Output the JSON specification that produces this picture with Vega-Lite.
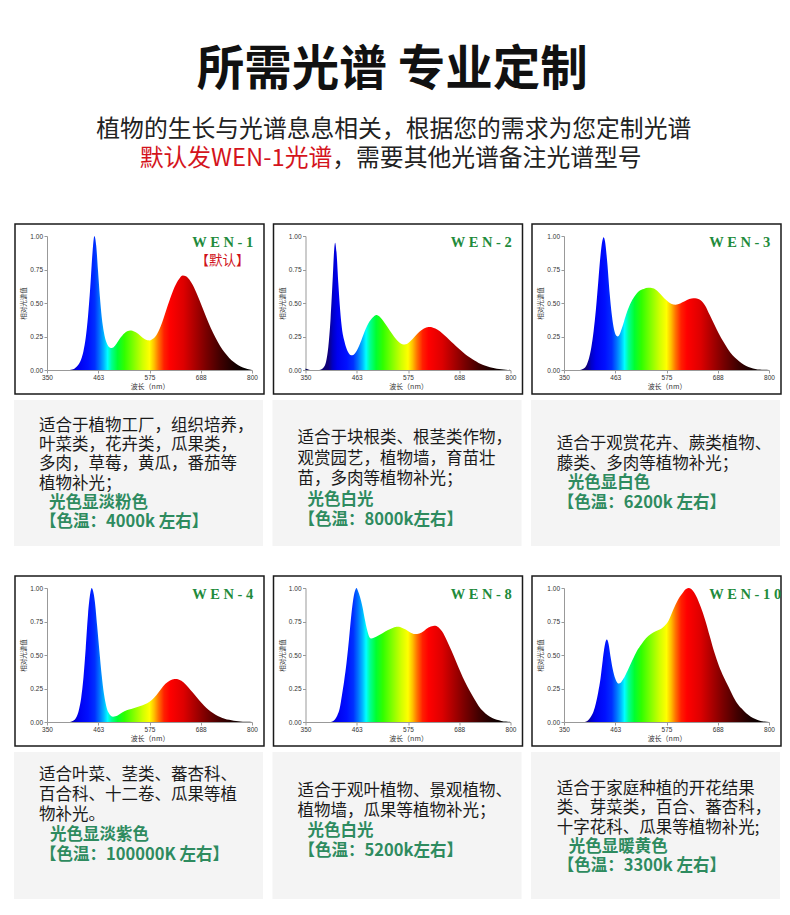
{
  "$schema": "https://vega.github.io/schema/vega-lite/v6.json",
  "background": "white",
  "padding": {"left": 13, "top": 0, "right": 0, "bottom": 0},
  "config": {
    "view": {"stroke": null},
    "axis": {"labelFont": "Liberation Sans", "labelFontSize": 6.5, "labelColor": "#333", "tickColor": "#999", "tickSize": 3, "domainColor": "#999", "grid": false, "titleFont": "Noto Sans CJK SC", "titleFontWeight": "normal", "titleColor": "#333", "labelFlush": false, "labelOverlap": false, "labelPadding": 1.5}
  },
  "datasets": {
    "spectra": [
      {"s":"WEN-1","wl":350,"v":0},{"s":"WEN-1","wl":400,"v":0},{"s":"WEN-1","wl":405,"v":0.004},{"s":"WEN-1","wl":410,"v":0.01},{"s":"WEN-1","wl":415,"v":0.025},{"s":"WEN-1","wl":420,"v":0.045},{"s":"WEN-1","wl":425,"v":0.08},{"s":"WEN-1","wl":430,"v":0.14},{"s":"WEN-1","wl":435,"v":0.24},{"s":"WEN-1","wl":440,"v":0.4},{"s":"WEN-1","wl":445,"v":0.62},{"s":"WEN-1","wl":450,"v":0.88},{"s":"WEN-1","wl":454,"v":1.0},{"s":"WEN-1","wl":458,"v":0.93},{"s":"WEN-1","wl":462,"v":0.74},{"s":"WEN-1","wl":466,"v":0.55},{"s":"WEN-1","wl":470,"v":0.4},{"s":"WEN-1","wl":475,"v":0.28},{"s":"WEN-1","wl":480,"v":0.21},{"s":"WEN-1","wl":485,"v":0.175},{"s":"WEN-1","wl":490,"v":0.164},{"s":"WEN-1","wl":495,"v":0.168},{"s":"WEN-1","wl":500,"v":0.185},{"s":"WEN-1","wl":510,"v":0.235},{"s":"WEN-1","wl":520,"v":0.275},{"s":"WEN-1","wl":530,"v":0.292},{"s":"WEN-1","wl":535,"v":0.294},{"s":"WEN-1","wl":540,"v":0.29},{"s":"WEN-1","wl":550,"v":0.27},{"s":"WEN-1","wl":560,"v":0.24},{"s":"WEN-1","wl":570,"v":0.222},{"s":"WEN-1","wl":575,"v":0.221},{"s":"WEN-1","wl":580,"v":0.228},{"s":"WEN-1","wl":590,"v":0.26},{"s":"WEN-1","wl":600,"v":0.33},{"s":"WEN-1","wl":610,"v":0.43},{"s":"WEN-1","wl":620,"v":0.53},{"s":"WEN-1","wl":630,"v":0.62},{"s":"WEN-1","wl":640,"v":0.68},{"s":"WEN-1","wl":648,"v":0.705},{"s":"WEN-1","wl":655,"v":0.7},{"s":"WEN-1","wl":660,"v":0.685},{"s":"WEN-1","wl":670,"v":0.635},{"s":"WEN-1","wl":680,"v":0.56},{"s":"WEN-1","wl":690,"v":0.475},{"s":"WEN-1","wl":700,"v":0.39},{"s":"WEN-1","wl":710,"v":0.31},{"s":"WEN-1","wl":720,"v":0.24},{"s":"WEN-1","wl":730,"v":0.18},{"s":"WEN-1","wl":740,"v":0.13},{"s":"WEN-1","wl":750,"v":0.09},{"s":"WEN-1","wl":760,"v":0.06},{"s":"WEN-1","wl":770,"v":0.035},{"s":"WEN-1","wl":780,"v":0.018},{"s":"WEN-1","wl":790,"v":0.007},{"s":"WEN-1","wl":800,"v":0},

      {"s":"WEN-2","wl":350,"v":0.012},{"s":"WEN-2","wl":355,"v":0.005},{"s":"WEN-2","wl":360,"v":0},{"s":"WEN-2","wl":380,"v":0},{"s":"WEN-2","wl":385,"v":0.005},{"s":"WEN-2","wl":390,"v":0.02},{"s":"WEN-2","wl":395,"v":0.06},{"s":"WEN-2","wl":400,"v":0.17},{"s":"WEN-2","wl":405,"v":0.38},{"s":"WEN-2","wl":410,"v":0.7},{"s":"WEN-2","wl":413,"v":0.9},{"s":"WEN-2","wl":415,"v":0.95},{"s":"WEN-2","wl":418,"v":0.88},{"s":"WEN-2","wl":422,"v":0.65},{"s":"WEN-2","wl":426,"v":0.45},{"s":"WEN-2","wl":430,"v":0.31},{"s":"WEN-2","wl":435,"v":0.22},{"s":"WEN-2","wl":440,"v":0.16},{"s":"WEN-2","wl":445,"v":0.125},{"s":"WEN-2","wl":450,"v":0.11},{"s":"WEN-2","wl":455,"v":0.112},{"s":"WEN-2","wl":460,"v":0.13},{"s":"WEN-2","wl":470,"v":0.2},{"s":"WEN-2","wl":480,"v":0.29},{"s":"WEN-2","wl":490,"v":0.36},{"s":"WEN-2","wl":500,"v":0.4},{"s":"WEN-2","wl":506,"v":0.41},{"s":"WEN-2","wl":510,"v":0.405},{"s":"WEN-2","wl":520,"v":0.37},{"s":"WEN-2","wl":530,"v":0.32},{"s":"WEN-2","wl":540,"v":0.27},{"s":"WEN-2","wl":550,"v":0.225},{"s":"WEN-2","wl":560,"v":0.195},{"s":"WEN-2","wl":565,"v":0.19},{"s":"WEN-2","wl":570,"v":0.192},{"s":"WEN-2","wl":580,"v":0.215},{"s":"WEN-2","wl":590,"v":0.25},{"s":"WEN-2","wl":600,"v":0.285},{"s":"WEN-2","wl":610,"v":0.31},{"s":"WEN-2","wl":620,"v":0.32},{"s":"WEN-2","wl":625,"v":0.32},{"s":"WEN-2","wl":630,"v":0.315},{"s":"WEN-2","wl":640,"v":0.3},{"s":"WEN-2","wl":650,"v":0.275},{"s":"WEN-2","wl":660,"v":0.245},{"s":"WEN-2","wl":670,"v":0.21},{"s":"WEN-2","wl":680,"v":0.18},{"s":"WEN-2","wl":690,"v":0.15},{"s":"WEN-2","wl":700,"v":0.12},{"s":"WEN-2","wl":710,"v":0.095},{"s":"WEN-2","wl":720,"v":0.072},{"s":"WEN-2","wl":730,"v":0.053},{"s":"WEN-2","wl":740,"v":0.038},{"s":"WEN-2","wl":750,"v":0.026},{"s":"WEN-2","wl":760,"v":0.016},{"s":"WEN-2","wl":770,"v":0.009},{"s":"WEN-2","wl":780,"v":0.005},{"s":"WEN-2","wl":790,"v":0.002},{"s":"WEN-2","wl":800,"v":0},

      {"s":"WEN-3","wl":350,"v":0},{"s":"WEN-3","wl":385,"v":0},{"s":"WEN-3","wl":390,"v":0.005},{"s":"WEN-3","wl":395,"v":0.015},{"s":"WEN-3","wl":400,"v":0.04},{"s":"WEN-3","wl":405,"v":0.09},{"s":"WEN-3","wl":410,"v":0.17},{"s":"WEN-3","wl":415,"v":0.29},{"s":"WEN-3","wl":420,"v":0.45},{"s":"WEN-3","wl":425,"v":0.65},{"s":"WEN-3","wl":430,"v":0.85},{"s":"WEN-3","wl":434,"v":0.96},{"s":"WEN-3","wl":437,"v":0.99},{"s":"WEN-3","wl":440,"v":0.96},{"s":"WEN-3","wl":445,"v":0.8},{"s":"WEN-3","wl":450,"v":0.58},{"s":"WEN-3","wl":455,"v":0.41},{"s":"WEN-3","wl":460,"v":0.3},{"s":"WEN-3","wl":465,"v":0.255},{"s":"WEN-3","wl":468,"v":0.25},{"s":"WEN-3","wl":472,"v":0.265},{"s":"WEN-3","wl":478,"v":0.32},{"s":"WEN-3","wl":485,"v":0.4},{"s":"WEN-3","wl":495,"v":0.49},{"s":"WEN-3","wl":505,"v":0.55},{"s":"WEN-3","wl":515,"v":0.59},{"s":"WEN-3","wl":525,"v":0.605},{"s":"WEN-3","wl":535,"v":0.613},{"s":"WEN-3","wl":545,"v":0.61},{"s":"WEN-3","wl":555,"v":0.59},{"s":"WEN-3","wl":565,"v":0.555},{"s":"WEN-3","wl":575,"v":0.52},{"s":"WEN-3","wl":585,"v":0.495},{"s":"WEN-3","wl":595,"v":0.487},{"s":"WEN-3","wl":600,"v":0.49},{"s":"WEN-3","wl":610,"v":0.505},{"s":"WEN-3","wl":620,"v":0.523},{"s":"WEN-3","wl":630,"v":0.534},{"s":"WEN-3","wl":638,"v":0.536},{"s":"WEN-3","wl":645,"v":0.53},{"s":"WEN-3","wl":650,"v":0.52},{"s":"WEN-3","wl":660,"v":0.48},{"s":"WEN-3","wl":670,"v":0.41},{"s":"WEN-3","wl":680,"v":0.34},{"s":"WEN-3","wl":690,"v":0.27},{"s":"WEN-3","wl":700,"v":0.21},{"s":"WEN-3","wl":710,"v":0.155},{"s":"WEN-3","wl":720,"v":0.11},{"s":"WEN-3","wl":730,"v":0.078},{"s":"WEN-3","wl":740,"v":0.05},{"s":"WEN-3","wl":750,"v":0.03},{"s":"WEN-3","wl":760,"v":0.017},{"s":"WEN-3","wl":770,"v":0.008},{"s":"WEN-3","wl":780,"v":0.003},{"s":"WEN-3","wl":790,"v":0.001},{"s":"WEN-3","wl":800,"v":0},

      {"s":"WEN-4","wl":350,"v":0},{"s":"WEN-4","wl":400,"v":0},{"s":"WEN-4","wl":405,"v":0.005},{"s":"WEN-4","wl":410,"v":0.015},{"s":"WEN-4","wl":415,"v":0.04},{"s":"WEN-4","wl":420,"v":0.09},{"s":"WEN-4","wl":425,"v":0.18},{"s":"WEN-4","wl":430,"v":0.33},{"s":"WEN-4","wl":435,"v":0.55},{"s":"WEN-4","wl":440,"v":0.8},{"s":"WEN-4","wl":445,"v":0.96},{"s":"WEN-4","wl":448,"v":1.0},{"s":"WEN-4","wl":451,"v":0.98},{"s":"WEN-4","wl":455,"v":0.9},{"s":"WEN-4","wl":460,"v":0.72},{"s":"WEN-4","wl":465,"v":0.53},{"s":"WEN-4","wl":470,"v":0.35},{"s":"WEN-4","wl":475,"v":0.21},{"s":"WEN-4","wl":480,"v":0.12},{"s":"WEN-4","wl":485,"v":0.07},{"s":"WEN-4","wl":490,"v":0.047},{"s":"WEN-4","wl":495,"v":0.04},{"s":"WEN-4","wl":500,"v":0.042},{"s":"WEN-4","wl":510,"v":0.06},{"s":"WEN-4","wl":520,"v":0.08},{"s":"WEN-4","wl":530,"v":0.093},{"s":"WEN-4","wl":540,"v":0.103},{"s":"WEN-4","wl":550,"v":0.113},{"s":"WEN-4","wl":560,"v":0.125},{"s":"WEN-4","wl":570,"v":0.14},{"s":"WEN-4","wl":580,"v":0.165},{"s":"WEN-4","wl":590,"v":0.2},{"s":"WEN-4","wl":600,"v":0.245},{"s":"WEN-4","wl":610,"v":0.285},{"s":"WEN-4","wl":620,"v":0.31},{"s":"WEN-4","wl":630,"v":0.32},{"s":"WEN-4","wl":635,"v":0.32},{"s":"WEN-4","wl":640,"v":0.315},{"s":"WEN-4","wl":650,"v":0.295},{"s":"WEN-4","wl":660,"v":0.26},{"s":"WEN-4","wl":670,"v":0.22},{"s":"WEN-4","wl":680,"v":0.18},{"s":"WEN-4","wl":690,"v":0.14},{"s":"WEN-4","wl":700,"v":0.105},{"s":"WEN-4","wl":710,"v":0.077},{"s":"WEN-4","wl":720,"v":0.055},{"s":"WEN-4","wl":730,"v":0.038},{"s":"WEN-4","wl":740,"v":0.025},{"s":"WEN-4","wl":750,"v":0.016},{"s":"WEN-4","wl":760,"v":0.009},{"s":"WEN-4","wl":770,"v":0.005},{"s":"WEN-4","wl":780,"v":0.002},{"s":"WEN-4","wl":790,"v":0.001},{"s":"WEN-4","wl":800,"v":0},

      {"s":"WEN-8","wl":350,"v":0},{"s":"WEN-8","wl":405,"v":0},{"s":"WEN-8","wl":410,"v":0.005},{"s":"WEN-8","wl":415,"v":0.02},{"s":"WEN-8","wl":420,"v":0.05},{"s":"WEN-8","wl":425,"v":0.1},{"s":"WEN-8","wl":430,"v":0.2},{"s":"WEN-8","wl":435,"v":0.31},{"s":"WEN-8","wl":440,"v":0.44},{"s":"WEN-8","wl":445,"v":0.6},{"s":"WEN-8","wl":450,"v":0.78},{"s":"WEN-8","wl":455,"v":0.92},{"s":"WEN-8","wl":460,"v":0.99},{"s":"WEN-8","wl":462,"v":1.0},{"s":"WEN-8","wl":465,"v":0.98},{"s":"WEN-8","wl":470,"v":0.93},{"s":"WEN-8","wl":475,"v":0.86},{"s":"WEN-8","wl":480,"v":0.77},{"s":"WEN-8","wl":485,"v":0.69},{"s":"WEN-8","wl":490,"v":0.635},{"s":"WEN-8","wl":494,"v":0.623},{"s":"WEN-8","wl":500,"v":0.628},{"s":"WEN-8","wl":510,"v":0.645},{"s":"WEN-8","wl":520,"v":0.665},{"s":"WEN-8","wl":530,"v":0.685},{"s":"WEN-8","wl":540,"v":0.7},{"s":"WEN-8","wl":550,"v":0.71},{"s":"WEN-8","wl":555,"v":0.71},{"s":"WEN-8","wl":560,"v":0.705},{"s":"WEN-8","wl":570,"v":0.69},{"s":"WEN-8","wl":580,"v":0.668},{"s":"WEN-8","wl":590,"v":0.656},{"s":"WEN-8","wl":595,"v":0.656},{"s":"WEN-8","wl":600,"v":0.66},{"s":"WEN-8","wl":610,"v":0.68},{"s":"WEN-8","wl":620,"v":0.705},{"s":"WEN-8","wl":630,"v":0.716},{"s":"WEN-8","wl":635,"v":0.718},{"s":"WEN-8","wl":640,"v":0.71},{"s":"WEN-8","wl":650,"v":0.675},{"s":"WEN-8","wl":660,"v":0.61},{"s":"WEN-8","wl":670,"v":0.535},{"s":"WEN-8","wl":680,"v":0.455},{"s":"WEN-8","wl":690,"v":0.375},{"s":"WEN-8","wl":700,"v":0.3},{"s":"WEN-8","wl":710,"v":0.235},{"s":"WEN-8","wl":720,"v":0.175},{"s":"WEN-8","wl":730,"v":0.12},{"s":"WEN-8","wl":740,"v":0.08},{"s":"WEN-8","wl":750,"v":0.05},{"s":"WEN-8","wl":760,"v":0.03},{"s":"WEN-8","wl":770,"v":0.016},{"s":"WEN-8","wl":780,"v":0.008},{"s":"WEN-8","wl":790,"v":0.003},{"s":"WEN-8","wl":800,"v":0},

      {"s":"WEN-10","wl":350,"v":0},{"s":"WEN-10","wl":395,"v":0},{"s":"WEN-10","wl":400,"v":0.005},{"s":"WEN-10","wl":405,"v":0.02},{"s":"WEN-10","wl":410,"v":0.045},{"s":"WEN-10","wl":415,"v":0.08},{"s":"WEN-10","wl":420,"v":0.14},{"s":"WEN-10","wl":425,"v":0.22},{"s":"WEN-10","wl":430,"v":0.32},{"s":"WEN-10","wl":435,"v":0.46},{"s":"WEN-10","wl":440,"v":0.58},{"s":"WEN-10","wl":444,"v":0.615},{"s":"WEN-10","wl":448,"v":0.58},{"s":"WEN-10","wl":452,"v":0.49},{"s":"WEN-10","wl":456,"v":0.41},{"s":"WEN-10","wl":460,"v":0.35},{"s":"WEN-10","wl":465,"v":0.305},{"s":"WEN-10","wl":470,"v":0.287},{"s":"WEN-10","wl":475,"v":0.295},{"s":"WEN-10","wl":480,"v":0.32},{"s":"WEN-10","wl":490,"v":0.387},{"s":"WEN-10","wl":500,"v":0.46},{"s":"WEN-10","wl":510,"v":0.53},{"s":"WEN-10","wl":520,"v":0.58},{"s":"WEN-10","wl":530,"v":0.625},{"s":"WEN-10","wl":540,"v":0.655},{"s":"WEN-10","wl":550,"v":0.675},{"s":"WEN-10","wl":560,"v":0.69},{"s":"WEN-10","wl":570,"v":0.715},{"s":"WEN-10","wl":580,"v":0.76},{"s":"WEN-10","wl":590,"v":0.84},{"s":"WEN-10","wl":600,"v":0.91},{"s":"WEN-10","wl":610,"v":0.96},{"s":"WEN-10","wl":617,"v":0.99},{"s":"WEN-10","wl":623,"v":1.0},{"s":"WEN-10","wl":630,"v":0.99},{"s":"WEN-10","wl":640,"v":0.94},{"s":"WEN-10","wl":650,"v":0.86},{"s":"WEN-10","wl":660,"v":0.76},{"s":"WEN-10","wl":670,"v":0.64},{"s":"WEN-10","wl":680,"v":0.52},{"s":"WEN-10","wl":690,"v":0.42},{"s":"WEN-10","wl":700,"v":0.34},{"s":"WEN-10","wl":710,"v":0.27},{"s":"WEN-10","wl":720,"v":0.2},{"s":"WEN-10","wl":730,"v":0.14},{"s":"WEN-10","wl":740,"v":0.1},{"s":"WEN-10","wl":750,"v":0.065},{"s":"WEN-10","wl":760,"v":0.04},{"s":"WEN-10","wl":770,"v":0.022},{"s":"WEN-10","wl":780,"v":0.01},{"s":"WEN-10","wl":790,"v":0.003},{"s":"WEN-10","wl":800,"v":0}
    ],
    "notes": [
      {"box":"WEN-1","line":1,"kind":"desc","text":"适合于植物工厂，组织培养，"},
      {"box":"WEN-1","line":2,"kind":"desc","text":"叶菜类，花卉类，瓜果类，"},
      {"box":"WEN-1","line":3,"kind":"desc","text":"多肉，草莓，黄瓜，番茄等"},
      {"box":"WEN-1","line":4,"kind":"desc","text":"植物补光；"},
      {"box":"WEN-1","line":5,"kind":"tone","text":"光色显淡粉色"},
      {"box":"WEN-1","line":6,"kind":"temp","text":"【色温：4000k 左右】"},
      {"box":"WEN-2","line":1,"kind":"desc","text":"适合于块根类、根茎类作物，"},
      {"box":"WEN-2","line":2,"kind":"desc","text":"观赏园艺，植物墙，育苗壮"},
      {"box":"WEN-2","line":3,"kind":"desc","text":"苗，多肉等植物补光；"},
      {"box":"WEN-2","line":4,"kind":"tone","text":"光色白光"},
      {"box":"WEN-2","line":5,"kind":"temp","text":"【色温：8000k左右】"},
      {"box":"WEN-3","line":1,"kind":"desc","text":"适合于观赏花卉、蕨类植物、"},
      {"box":"WEN-3","line":2,"kind":"desc","text":"藤类、多肉等植物补光；"},
      {"box":"WEN-3","line":3,"kind":"tone","text":"光色显白色"},
      {"box":"WEN-3","line":4,"kind":"temp","text":"【色温：6200k 左右】"},
      {"box":"WEN-4","line":1,"kind":"desc","text":"适合叶菜、茎类、蕃杏科、"},
      {"box":"WEN-4","line":2,"kind":"desc","text":"百合科、十二卷、瓜果等植"},
      {"box":"WEN-4","line":3,"kind":"desc","text":"物补光。"},
      {"box":"WEN-4","line":4,"kind":"tone","text":"光色显淡紫色"},
      {"box":"WEN-4","line":5,"kind":"temp","text":"【色温：100000K 左右】"},
      {"box":"WEN-8","line":1,"kind":"desc","text":"适合于观叶植物、景观植物、"},
      {"box":"WEN-8","line":2,"kind":"desc","text":"植物墙，瓜果等植物补光；"},
      {"box":"WEN-8","line":3,"kind":"tone","text":"光色白光"},
      {"box":"WEN-8","line":4,"kind":"temp","text":"【色温：5200k左右】"},
      {"box":"WEN-10","line":1,"kind":"desc","text":"适合于家庭种植的开花结果"},
      {"box":"WEN-10","line":2,"kind":"desc","text":"类、芽菜类，百合、蕃杏科，"},
      {"box":"WEN-10","line":3,"kind":"desc","text":"十字花科、瓜果等植物补光;"},
      {"box":"WEN-10","line":4,"kind":"tone","text":"光色显暖黄色"},
      {"box":"WEN-10","line":5,"kind":"temp","text":"【色温：3300k 左右】"}
    ]
  },
  "spacing": 29,
  "vconcat": [
    {
      "width": 700, "height": 194,
      "layer": [
        {"data": {"values": [{}]}, "mark": {"type": "text", "text": "所需光谱 专业定制", "font": "Noto Sans CJK SC", "fontSize": 47.5, "fontWeight": "bold", "color": "#111", "align": "center", "baseline": "middle"},
         "encoding": {"x": {"datum": 0.4932, "type": "quantitative", "scale": {"domain": [0, 1], "nice": false, "zero": false}, "axis": null}, "y": {"datum": 0.636, "type": "quantitative", "scale": {"domain": [0, 1], "nice": false, "zero": false}, "axis": null}}},
        {"data": {"values": [{}]}, "mark": {"type": "text", "text": "植物的生长与光谱息息相关，根据您的需求为您定制光谱", "font": "Noto Sans CJK SC", "fontSize": 23.8, "color": "#222", "align": "center", "baseline": "middle"},
         "encoding": {"x": {"datum": 0.4954, "type": "quantitative", "scale": {"domain": [0, 1], "nice": false, "zero": false}, "axis": null}, "y": {"datum": 0.33, "type": "quantitative", "scale": {"domain": [0, 1], "nice": false, "zero": false}, "axis": null}}},
        {"data": {"values": [{}]}, "mark": {"type": "text", "text": "默认发WEN-1光谱", "font": "Noto Sans CJK SC", "fontSize": 23.8, "color": "#d4141c", "align": "right", "baseline": "middle"},
         "encoding": {"x": {"datum": 0.4075, "type": "quantitative", "scale": {"domain": [0, 1], "nice": false, "zero": false}, "axis": null}, "y": {"datum": 0.18, "type": "quantitative", "scale": {"domain": [0, 1], "nice": false, "zero": false}, "axis": null}}},
        {"data": {"values": [{}]}, "mark": {"type": "text", "text": "，需要其他光谱备注光谱型号", "font": "Noto Sans CJK SC", "fontSize": 23.8, "color": "#222", "align": "left", "baseline": "middle"},
         "encoding": {"x": {"datum": 0.4075, "type": "quantitative", "scale": {"domain": [0, 1], "nice": false, "zero": false}, "axis": null}, "y": {"datum": 0.18, "type": "quantitative", "scale": {"domain": [0, 1], "nice": false, "zero": false}, "axis": null}}}
      ]
    },
    {
      "spacing": 5,
      "vconcat": [
        {
          "spacing": 7.5,
          "hconcat": [
            {"width": 205, "height": 134, "layer": [
              {"data": {"values": [{}]}, "mark": {"type": "rect", "filled": false, "stroke": "#1a1a1a", "strokeWidth": 1.5, "clip": false}, "encoding": {"x": {"datum": 279.76, "type": "quantitative", "scale": {"domain": [350, 800], "nice": false, "zero": false}, "axis": {"values": [350, 462.5, 575, 687.5, 800], "format": ".0f", "title": "波长（nm）", "titleFontSize": 7, "titlePadding": 1, "labelOverlap": false}}, "x2": {"datum": 826.34}, "y": {"datum": -0.179, "type": "quantitative", "scale": {"domain": [0, 1], "nice": false, "zero": false}, "axis": {"values": [0, 0.25, 0.5, 0.75, 1], "format": ".2f", "title": "相对光谱值", "titleFontSize": 6.5, "titlePadding": 3, "labelOverlap": false}}, "y2": {"datum": 1.0896}}},
              {"data": {"name": "spectra"}, "transform": [{"filter": "datum.s === 'WEN-1'"}], "mark": {"type": "area", "interpolate": "monotone", "color": {"gradient": "linear", "x1": 0, "y1": 0, "x2": 1, "y2": 0, "stops": [{"offset": 0, "color": "#000050"}, {"offset": 0.1111, "color": "#10007a"}, {"offset": 0.1333, "color": "#0000c8"}, {"offset": 0.1556, "color": "#0000f0"}, {"offset": 0.2, "color": "#0010ff"}, {"offset": 0.2333, "color": "#0030ff"}, {"offset": 0.2556, "color": "#0070ff"}, {"offset": 0.2778, "color": "#00b8ff"}, {"offset": 0.2956, "color": "#00ffff"}, {"offset": 0.3156, "color": "#00ff90"}, {"offset": 0.3444, "color": "#00ff30"}, {"offset": 0.3778, "color": "#30ff00"}, {"offset": 0.4222, "color": "#80ff00"}, {"offset": 0.4667, "color": "#d0ff00"}, {"offset": 0.5, "color": "#ffff00"}, {"offset": 0.5222, "color": "#ffc000"}, {"offset": 0.5444, "color": "#ff7000"}, {"offset": 0.5711, "color": "#ff2000"}, {"offset": 0.6, "color": "#ff0000"}, {"offset": 0.6667, "color": "#dd0000"}, {"offset": 0.7333, "color": "#a00000"}, {"offset": 0.7778, "color": "#780000"}, {"offset": 0.8444, "color": "#420000"}, {"offset": 0.9111, "color": "#180000"}, {"offset": 0.9778, "color": "#000000"}, {"offset": 1, "color": "#000000"}]}},
               "encoding": {"x": {"field": "wl", "type": "quantitative", "scale": {"domain": [350, 800], "nice": false, "zero": false}, "axis": {"values": [350, 462.5, 575, 687.5, 800], "format": ".0f", "title": "波长（nm）", "titleFontSize": 7, "titlePadding": 1, "labelOverlap": false}},
                            "y": {"field": "v", "type": "quantitative", "scale": {"domain": [0, 1], "nice": false, "zero": false}, "axis": {"values": [0, 0.25, 0.5, 0.75, 1], "format": ".2f", "title": "相对光谱值", "titleFontSize": 6.5, "titlePadding": 3, "labelOverlap": false}}}},
              {"data": {"values": [{}]}, "mark": {"type": "text", "text": "W E N - 1", "font": "Liberation Serif", "fontWeight": "bold", "fontSize": 14.5, "color": "#1f8b3c", "align": "left", "baseline": "middle"}, "encoding": {"x": {"datum": 669, "type": "quantitative", "scale": {"domain": [350, 800], "nice": false, "zero": false}, "axis": {"values": [350, 462.5, 575, 687.5, 800], "format": ".0f", "title": "波长（nm）", "titleFontSize": 7, "titlePadding": 1, "labelOverlap": false}}, "y": {"datum": 0.95, "type": "quantitative", "scale": {"domain": [0, 1], "nice": false, "zero": false}, "axis": {"values": [0, 0.25, 0.5, 0.75, 1], "format": ".2f", "title": "相对光谱值", "titleFontSize": 6.5, "titlePadding": 3, "labelOverlap": false}}}},
              {"data": {"values": [{}]}, "mark": {"type": "text", "text": "【默认】", "font": "Noto Sans CJK SC", "fontSize": 13.5, "color": "#d0121b", "align": "center", "baseline": "middle"}, "encoding": {"x": {"datum": 735, "type": "quantitative", "scale": {"domain": [350, 800], "nice": false, "zero": false}, "axis": {"values": [350, 462.5, 575, 687.5, 800], "format": ".0f", "title": "波长（nm）", "titleFontSize": 7, "titlePadding": 1, "labelOverlap": false}}, "y": {"datum": 0.816, "type": "quantitative", "scale": {"domain": [0, 1], "nice": false, "zero": false}, "axis": {"values": [0, 0.25, 0.5, 0.75, 1], "format": ".2f", "title": "相对光谱值", "titleFontSize": 6.5, "titlePadding": 3, "labelOverlap": false}}}}
            ]},
            {"width": 205, "height": 134, "layer": [
              {"data": {"values": [{}]}, "mark": {"type": "rect", "filled": false, "stroke": "#1a1a1a", "strokeWidth": 1.5, "clip": false}, "encoding": {"x": {"datum": 279.76, "type": "quantitative", "scale": {"domain": [350, 800], "nice": false, "zero": false}, "axis": {"values": [350, 462.5, 575, 687.5, 800], "format": ".0f", "title": "波长（nm）", "titleFontSize": 7, "titlePadding": 1, "labelOverlap": false}}, "x2": {"datum": 826.34}, "y": {"datum": -0.179, "type": "quantitative", "scale": {"domain": [0, 1], "nice": false, "zero": false}, "axis": {"values": [0, 0.25, 0.5, 0.75, 1], "format": ".2f", "title": "相对光谱值", "titleFontSize": 6.5, "titlePadding": 3, "labelOverlap": false}}, "y2": {"datum": 1.0896}}},
              {"data": {"name": "spectra"}, "transform": [{"filter": "datum.s === 'WEN-2'"}], "mark": {"type": "area", "interpolate": "monotone", "color": {"gradient": "linear", "x1": 0, "y1": 0, "x2": 1, "y2": 0, "stops": [{"offset": 0, "color": "#000050"}, {"offset": 0.1111, "color": "#10007a"}, {"offset": 0.1333, "color": "#0000c8"}, {"offset": 0.1556, "color": "#0000f0"}, {"offset": 0.2, "color": "#0010ff"}, {"offset": 0.2333, "color": "#0030ff"}, {"offset": 0.2556, "color": "#0070ff"}, {"offset": 0.2778, "color": "#00b8ff"}, {"offset": 0.2956, "color": "#00ffff"}, {"offset": 0.3156, "color": "#00ff90"}, {"offset": 0.3444, "color": "#00ff30"}, {"offset": 0.3778, "color": "#30ff00"}, {"offset": 0.4222, "color": "#80ff00"}, {"offset": 0.4667, "color": "#d0ff00"}, {"offset": 0.5, "color": "#ffff00"}, {"offset": 0.5222, "color": "#ffc000"}, {"offset": 0.5444, "color": "#ff7000"}, {"offset": 0.5711, "color": "#ff2000"}, {"offset": 0.6, "color": "#ff0000"}, {"offset": 0.6667, "color": "#dd0000"}, {"offset": 0.7333, "color": "#a00000"}, {"offset": 0.7778, "color": "#780000"}, {"offset": 0.8444, "color": "#420000"}, {"offset": 0.9111, "color": "#180000"}, {"offset": 0.9778, "color": "#000000"}, {"offset": 1, "color": "#000000"}]}},
               "encoding": {"x": {"field": "wl", "type": "quantitative", "scale": {"domain": [350, 800], "nice": false, "zero": false}, "axis": {"values": [350, 462.5, 575, 687.5, 800], "format": ".0f", "title": "波长（nm）", "titleFontSize": 7, "titlePadding": 1, "labelOverlap": false}},
                            "y": {"field": "v", "type": "quantitative", "scale": {"domain": [0, 1], "nice": false, "zero": false}, "axis": {"values": [0, 0.25, 0.5, 0.75, 1], "format": ".2f", "title": "相对光谱值", "titleFontSize": 6.5, "titlePadding": 3, "labelOverlap": false}}}},
              {"data": {"values": [{}]}, "mark": {"type": "text", "text": "W E N - 2", "font": "Liberation Serif", "fontWeight": "bold", "fontSize": 14.5, "color": "#1f8b3c", "align": "left", "baseline": "middle"}, "encoding": {"x": {"datum": 669, "type": "quantitative", "scale": {"domain": [350, 800], "nice": false, "zero": false}, "axis": {"values": [350, 462.5, 575, 687.5, 800], "format": ".0f", "title": "波长（nm）", "titleFontSize": 7, "titlePadding": 1, "labelOverlap": false}}, "y": {"datum": 0.95, "type": "quantitative", "scale": {"domain": [0, 1], "nice": false, "zero": false}, "axis": {"values": [0, 0.25, 0.5, 0.75, 1], "format": ".2f", "title": "相对光谱值", "titleFontSize": 6.5, "titlePadding": 3, "labelOverlap": false}}}}
            ]},
            {"width": 205, "height": 134, "layer": [
              {"data": {"values": [{}]}, "mark": {"type": "rect", "filled": false, "stroke": "#1a1a1a", "strokeWidth": 1.5, "clip": false}, "encoding": {"x": {"datum": 279.76, "type": "quantitative", "scale": {"domain": [350, 800], "nice": false, "zero": false}, "axis": {"values": [350, 462.5, 575, 687.5, 800], "format": ".0f", "title": "波长（nm）", "titleFontSize": 7, "titlePadding": 1, "labelOverlap": false}}, "x2": {"datum": 826.34}, "y": {"datum": -0.179, "type": "quantitative", "scale": {"domain": [0, 1], "nice": false, "zero": false}, "axis": {"values": [0, 0.25, 0.5, 0.75, 1], "format": ".2f", "title": "相对光谱值", "titleFontSize": 6.5, "titlePadding": 3, "labelOverlap": false}}, "y2": {"datum": 1.0896}}},
              {"data": {"name": "spectra"}, "transform": [{"filter": "datum.s === 'WEN-3'"}], "mark": {"type": "area", "interpolate": "monotone", "color": {"gradient": "linear", "x1": 0, "y1": 0, "x2": 1, "y2": 0, "stops": [{"offset": 0, "color": "#000050"}, {"offset": 0.1111, "color": "#10007a"}, {"offset": 0.1333, "color": "#0000c8"}, {"offset": 0.1556, "color": "#0000f0"}, {"offset": 0.2, "color": "#0010ff"}, {"offset": 0.2333, "color": "#0030ff"}, {"offset": 0.2556, "color": "#0070ff"}, {"offset": 0.2778, "color": "#00b8ff"}, {"offset": 0.2956, "color": "#00ffff"}, {"offset": 0.3156, "color": "#00ff90"}, {"offset": 0.3444, "color": "#00ff30"}, {"offset": 0.3778, "color": "#30ff00"}, {"offset": 0.4222, "color": "#80ff00"}, {"offset": 0.4667, "color": "#d0ff00"}, {"offset": 0.5, "color": "#ffff00"}, {"offset": 0.5222, "color": "#ffc000"}, {"offset": 0.5444, "color": "#ff7000"}, {"offset": 0.5711, "color": "#ff2000"}, {"offset": 0.6, "color": "#ff0000"}, {"offset": 0.6667, "color": "#dd0000"}, {"offset": 0.7333, "color": "#a00000"}, {"offset": 0.7778, "color": "#780000"}, {"offset": 0.8444, "color": "#420000"}, {"offset": 0.9111, "color": "#180000"}, {"offset": 0.9778, "color": "#000000"}, {"offset": 1, "color": "#000000"}]}},
               "encoding": {"x": {"field": "wl", "type": "quantitative", "scale": {"domain": [350, 800], "nice": false, "zero": false}, "axis": {"values": [350, 462.5, 575, 687.5, 800], "format": ".0f", "title": "波长（nm）", "titleFontSize": 7, "titlePadding": 1, "labelOverlap": false}},
                            "y": {"field": "v", "type": "quantitative", "scale": {"domain": [0, 1], "nice": false, "zero": false}, "axis": {"values": [0, 0.25, 0.5, 0.75, 1], "format": ".2f", "title": "相对光谱值", "titleFontSize": 6.5, "titlePadding": 3, "labelOverlap": false}}}},
              {"data": {"values": [{}]}, "mark": {"type": "text", "text": "W E N - 3", "font": "Liberation Serif", "fontWeight": "bold", "fontSize": 14.5, "color": "#1f8b3c", "align": "left", "baseline": "middle"}, "encoding": {"x": {"datum": 669, "type": "quantitative", "scale": {"domain": [350, 800], "nice": false, "zero": false}, "axis": {"values": [350, 462.5, 575, 687.5, 800], "format": ".0f", "title": "波长（nm）", "titleFontSize": 7, "titlePadding": 1, "labelOverlap": false}}, "y": {"datum": 0.95, "type": "quantitative", "scale": {"domain": [0, 1], "nice": false, "zero": false}, "axis": {"values": [0, 0.25, 0.5, 0.75, 1], "format": ".2f", "title": "相对光谱值", "titleFontSize": 6.5, "titlePadding": 3, "labelOverlap": false}}}}
            ]}
          ]
        },
        {
          "spacing": 8.5,
          "hconcat": [
            {"width": 216, "height": 146, "layer": [
              {"data": {"values": [{}]}, "mark": {"type": "rect", "color": "#f4f4f4", "clip": false}, "encoding": {"x": {"datum": -0.15278, "type": "quantitative", "scale": {"domain": [0, 1], "nice": false, "zero": false}, "axis": null}, "x2": {"datum": 1}, "y": {"datum": -0.354, "type": "quantitative", "scale": {"domain": [-0.354, 7.25], "reverse": true, "nice": false, "zero": false}, "axis": null}, "y2": {"datum": 7.25}}},
              {"data": {"name": "notes"}, "transform": [{"filter": "datum.box === 'WEN-1' && datum.kind === 'desc'"}], "mark": {"type": "text", "align": "left", "baseline": "middle", "font": "Noto Sans CJK SC", "fontSize": 16.5, "color": "#1a1a1a"},
               "encoding": {"x": {"datum": -0.037, "type": "quantitative", "scale": {"domain": [0, 1], "nice": false, "zero": false}, "axis": null}, "y": {"field": "line", "type": "quantitative", "scale": {"domain": [-0.354, 7.25], "reverse": true, "nice": false, "zero": false}, "axis": null}, "text": {"field": "text"}}},
              {"data": {"name": "notes"}, "transform": [{"filter": "datum.box === 'WEN-1' && datum.kind === 'tone'"}], "mark": {"type": "text", "align": "left", "baseline": "middle", "font": "Noto Sans CJK SC", "fontSize": 16.5, "fontWeight": "bold", "color": "#2e8b5f", "dx": 10},
               "encoding": {"x": {"datum": -0.037, "type": "quantitative", "scale": {"domain": [0, 1], "nice": false, "zero": false}, "axis": null}, "y": {"field": "line", "type": "quantitative", "scale": {"domain": [-0.354, 7.25], "reverse": true, "nice": false, "zero": false}, "axis": null}, "text": {"field": "text"}}},
              {"data": {"name": "notes"}, "transform": [{"filter": "datum.box === 'WEN-1' && datum.kind === 'temp'"}], "mark": {"type": "text", "align": "left", "baseline": "middle", "font": "Noto Sans CJK SC", "fontSize": 16.5, "fontWeight": "bold", "color": "#2e8b5f", "dx": 1},
               "encoding": {"x": {"datum": -0.037, "type": "quantitative", "scale": {"domain": [0, 1], "nice": false, "zero": false}, "axis": null}, "y": {"field": "line", "type": "quantitative", "scale": {"domain": [-0.354, 7.25], "reverse": true, "nice": false, "zero": false}, "axis": null}, "text": {"field": "text"}}}
            ]},
            {"width": 216, "height": 146, "layer": [
              {"data": {"values": [{}]}, "mark": {"type": "rect", "color": "#f4f4f4", "clip": false}, "encoding": {"x": {"datum": -0.15278, "type": "quantitative", "scale": {"domain": [0, 1], "nice": false, "zero": false}, "axis": null}, "x2": {"datum": 1}, "y": {"datum": -0.845, "type": "quantitative", "scale": {"domain": [-0.845, 6.242], "reverse": true, "nice": false, "zero": false}, "axis": null}, "y2": {"datum": 6.242}}},
              {"data": {"name": "notes"}, "transform": [{"filter": "datum.box === 'WEN-2' && datum.kind === 'desc'"}], "mark": {"type": "text", "align": "left", "baseline": "middle", "font": "Noto Sans CJK SC", "fontSize": 16.5, "color": "#1a1a1a"},
               "encoding": {"x": {"datum": -0.037, "type": "quantitative", "scale": {"domain": [0, 1], "nice": false, "zero": false}, "axis": null}, "y": {"field": "line", "type": "quantitative", "scale": {"domain": [-0.845, 6.242], "reverse": true, "nice": false, "zero": false}, "axis": null}, "text": {"field": "text"}}},
              {"data": {"name": "notes"}, "transform": [{"filter": "datum.box === 'WEN-2' && datum.kind === 'tone'"}], "mark": {"type": "text", "align": "left", "baseline": "middle", "font": "Noto Sans CJK SC", "fontSize": 16.5, "fontWeight": "bold", "color": "#2e8b5f", "dx": 10},
               "encoding": {"x": {"datum": -0.037, "type": "quantitative", "scale": {"domain": [0, 1], "nice": false, "zero": false}, "axis": null}, "y": {"field": "line", "type": "quantitative", "scale": {"domain": [-0.845, 6.242], "reverse": true, "nice": false, "zero": false}, "axis": null}, "text": {"field": "text"}}},
              {"data": {"name": "notes"}, "transform": [{"filter": "datum.box === 'WEN-2' && datum.kind === 'temp'"}], "mark": {"type": "text", "align": "left", "baseline": "middle", "font": "Noto Sans CJK SC", "fontSize": 16.5, "fontWeight": "bold", "color": "#2e8b5f", "dx": 1},
               "encoding": {"x": {"datum": -0.037, "type": "quantitative", "scale": {"domain": [0, 1], "nice": false, "zero": false}, "axis": null}, "y": {"field": "line", "type": "quantitative", "scale": {"domain": [-0.845, 6.242], "reverse": true, "nice": false, "zero": false}, "axis": null}, "text": {"field": "text"}}}
            ]},
            {"width": 216, "height": 146, "layer": [
              {"data": {"values": [{}]}, "mark": {"type": "rect", "color": "#f4f4f4", "clip": false}, "encoding": {"x": {"datum": -0.15278, "type": "quantitative", "scale": {"domain": [0, 1], "nice": false, "zero": false}, "axis": null}, "x2": {"datum": 1}, "y": {"datum": -1.234, "type": "quantitative", "scale": {"domain": [-1.234, 6.177], "reverse": true, "nice": false, "zero": false}, "axis": null}, "y2": {"datum": 6.177}}},
              {"data": {"name": "notes"}, "transform": [{"filter": "datum.box === 'WEN-3' && datum.kind === 'desc'"}], "mark": {"type": "text", "align": "left", "baseline": "middle", "font": "Noto Sans CJK SC", "fontSize": 16.5, "color": "#1a1a1a"},
               "encoding": {"x": {"datum": -0.033, "type": "quantitative", "scale": {"domain": [0, 1], "nice": false, "zero": false}, "axis": null}, "y": {"field": "line", "type": "quantitative", "scale": {"domain": [-1.234, 6.177], "reverse": true, "nice": false, "zero": false}, "axis": null}, "text": {"field": "text"}}},
              {"data": {"name": "notes"}, "transform": [{"filter": "datum.box === 'WEN-3' && datum.kind === 'tone'"}], "mark": {"type": "text", "align": "left", "baseline": "middle", "font": "Noto Sans CJK SC", "fontSize": 16.5, "fontWeight": "bold", "color": "#2e8b5f", "dx": 11},
               "encoding": {"x": {"datum": -0.033, "type": "quantitative", "scale": {"domain": [0, 1], "nice": false, "zero": false}, "axis": null}, "y": {"field": "line", "type": "quantitative", "scale": {"domain": [-1.234, 6.177], "reverse": true, "nice": false, "zero": false}, "axis": null}, "text": {"field": "text"}}},
              {"data": {"name": "notes"}, "transform": [{"filter": "datum.box === 'WEN-3' && datum.kind === 'temp'"}], "mark": {"type": "text", "align": "left", "baseline": "middle", "font": "Noto Sans CJK SC", "fontSize": 16.5, "fontWeight": "bold", "color": "#2e8b5f", "dx": 1},
               "encoding": {"x": {"datum": -0.033, "type": "quantitative", "scale": {"domain": [0, 1], "nice": false, "zero": false}, "axis": null}, "y": {"field": "line", "type": "quantitative", "scale": {"domain": [-1.234, 6.177], "reverse": true, "nice": false, "zero": false}, "axis": null}, "text": {"field": "text"}}}
            ]}
          ]
        }
      ]
    },
    {
      "spacing": 5,
      "vconcat": [
        {
          "spacing": 7.5,
          "hconcat": [
            {"width": 205, "height": 134, "layer": [
              {"data": {"values": [{}]}, "mark": {"type": "rect", "filled": false, "stroke": "#1a1a1a", "strokeWidth": 1.5, "clip": false}, "encoding": {"x": {"datum": 279.76, "type": "quantitative", "scale": {"domain": [350, 800], "nice": false, "zero": false}, "axis": {"values": [350, 462.5, 575, 687.5, 800], "format": ".0f", "title": "波长（nm）", "titleFontSize": 7, "titlePadding": 1, "labelOverlap": false}}, "x2": {"datum": 826.34}, "y": {"datum": -0.179, "type": "quantitative", "scale": {"domain": [0, 1], "nice": false, "zero": false}, "axis": {"values": [0, 0.25, 0.5, 0.75, 1], "format": ".2f", "title": "相对光谱值", "titleFontSize": 6.5, "titlePadding": 3, "labelOverlap": false}}, "y2": {"datum": 1.0896}}},
              {"data": {"name": "spectra"}, "transform": [{"filter": "datum.s === 'WEN-4'"}], "mark": {"type": "area", "interpolate": "monotone", "color": {"gradient": "linear", "x1": 0, "y1": 0, "x2": 1, "y2": 0, "stops": [{"offset": 0, "color": "#000050"}, {"offset": 0.1111, "color": "#10007a"}, {"offset": 0.1333, "color": "#0000c8"}, {"offset": 0.1556, "color": "#0000f0"}, {"offset": 0.2, "color": "#0010ff"}, {"offset": 0.2333, "color": "#0030ff"}, {"offset": 0.2556, "color": "#0070ff"}, {"offset": 0.2778, "color": "#00b8ff"}, {"offset": 0.2956, "color": "#00ffff"}, {"offset": 0.3156, "color": "#00ff90"}, {"offset": 0.3444, "color": "#00ff30"}, {"offset": 0.3778, "color": "#30ff00"}, {"offset": 0.4222, "color": "#80ff00"}, {"offset": 0.4667, "color": "#d0ff00"}, {"offset": 0.5, "color": "#ffff00"}, {"offset": 0.5222, "color": "#ffc000"}, {"offset": 0.5444, "color": "#ff7000"}, {"offset": 0.5711, "color": "#ff2000"}, {"offset": 0.6, "color": "#ff0000"}, {"offset": 0.6667, "color": "#dd0000"}, {"offset": 0.7333, "color": "#a00000"}, {"offset": 0.7778, "color": "#780000"}, {"offset": 0.8444, "color": "#420000"}, {"offset": 0.9111, "color": "#180000"}, {"offset": 0.9778, "color": "#000000"}, {"offset": 1, "color": "#000000"}]}},
               "encoding": {"x": {"field": "wl", "type": "quantitative", "scale": {"domain": [350, 800], "nice": false, "zero": false}, "axis": {"values": [350, 462.5, 575, 687.5, 800], "format": ".0f", "title": "波长（nm）", "titleFontSize": 7, "titlePadding": 1, "labelOverlap": false}},
                            "y": {"field": "v", "type": "quantitative", "scale": {"domain": [0, 1], "nice": false, "zero": false}, "axis": {"values": [0, 0.25, 0.5, 0.75, 1], "format": ".2f", "title": "相对光谱值", "titleFontSize": 6.5, "titlePadding": 3, "labelOverlap": false}}}},
              {"data": {"values": [{}]}, "mark": {"type": "text", "text": "W E N - 4", "font": "Liberation Serif", "fontWeight": "bold", "fontSize": 14.5, "color": "#1f8b3c", "align": "left", "baseline": "middle"}, "encoding": {"x": {"datum": 669, "type": "quantitative", "scale": {"domain": [350, 800], "nice": false, "zero": false}, "axis": {"values": [350, 462.5, 575, 687.5, 800], "format": ".0f", "title": "波长（nm）", "titleFontSize": 7, "titlePadding": 1, "labelOverlap": false}}, "y": {"datum": 0.95, "type": "quantitative", "scale": {"domain": [0, 1], "nice": false, "zero": false}, "axis": {"values": [0, 0.25, 0.5, 0.75, 1], "format": ".2f", "title": "相对光谱值", "titleFontSize": 6.5, "titlePadding": 3, "labelOverlap": false}}}}
            ]},
            {"width": 205, "height": 134, "layer": [
              {"data": {"values": [{}]}, "mark": {"type": "rect", "filled": false, "stroke": "#1a1a1a", "strokeWidth": 1.5, "clip": false}, "encoding": {"x": {"datum": 279.76, "type": "quantitative", "scale": {"domain": [350, 800], "nice": false, "zero": false}, "axis": {"values": [350, 462.5, 575, 687.5, 800], "format": ".0f", "title": "波长（nm）", "titleFontSize": 7, "titlePadding": 1, "labelOverlap": false}}, "x2": {"datum": 826.34}, "y": {"datum": -0.179, "type": "quantitative", "scale": {"domain": [0, 1], "nice": false, "zero": false}, "axis": {"values": [0, 0.25, 0.5, 0.75, 1], "format": ".2f", "title": "相对光谱值", "titleFontSize": 6.5, "titlePadding": 3, "labelOverlap": false}}, "y2": {"datum": 1.0896}}},
              {"data": {"name": "spectra"}, "transform": [{"filter": "datum.s === 'WEN-8'"}], "mark": {"type": "area", "interpolate": "monotone", "color": {"gradient": "linear", "x1": 0, "y1": 0, "x2": 1, "y2": 0, "stops": [{"offset": 0, "color": "#000050"}, {"offset": 0.1111, "color": "#10007a"}, {"offset": 0.1333, "color": "#0000c8"}, {"offset": 0.1556, "color": "#0000f0"}, {"offset": 0.2, "color": "#0010ff"}, {"offset": 0.2333, "color": "#0030ff"}, {"offset": 0.2556, "color": "#0070ff"}, {"offset": 0.2778, "color": "#00b8ff"}, {"offset": 0.2956, "color": "#00ffff"}, {"offset": 0.3156, "color": "#00ff90"}, {"offset": 0.3444, "color": "#00ff30"}, {"offset": 0.3778, "color": "#30ff00"}, {"offset": 0.4222, "color": "#80ff00"}, {"offset": 0.4667, "color": "#d0ff00"}, {"offset": 0.5, "color": "#ffff00"}, {"offset": 0.5222, "color": "#ffc000"}, {"offset": 0.5444, "color": "#ff7000"}, {"offset": 0.5711, "color": "#ff2000"}, {"offset": 0.6, "color": "#ff0000"}, {"offset": 0.6667, "color": "#dd0000"}, {"offset": 0.7333, "color": "#a00000"}, {"offset": 0.7778, "color": "#780000"}, {"offset": 0.8444, "color": "#420000"}, {"offset": 0.9111, "color": "#180000"}, {"offset": 0.9778, "color": "#000000"}, {"offset": 1, "color": "#000000"}]}},
               "encoding": {"x": {"field": "wl", "type": "quantitative", "scale": {"domain": [350, 800], "nice": false, "zero": false}, "axis": {"values": [350, 462.5, 575, 687.5, 800], "format": ".0f", "title": "波长（nm）", "titleFontSize": 7, "titlePadding": 1, "labelOverlap": false}},
                            "y": {"field": "v", "type": "quantitative", "scale": {"domain": [0, 1], "nice": false, "zero": false}, "axis": {"values": [0, 0.25, 0.5, 0.75, 1], "format": ".2f", "title": "相对光谱值", "titleFontSize": 6.5, "titlePadding": 3, "labelOverlap": false}}}},
              {"data": {"values": [{}]}, "mark": {"type": "text", "text": "W E N - 8", "font": "Liberation Serif", "fontWeight": "bold", "fontSize": 14.5, "color": "#1f8b3c", "align": "left", "baseline": "middle"}, "encoding": {"x": {"datum": 669, "type": "quantitative", "scale": {"domain": [350, 800], "nice": false, "zero": false}, "axis": {"values": [350, 462.5, 575, 687.5, 800], "format": ".0f", "title": "波长（nm）", "titleFontSize": 7, "titlePadding": 1, "labelOverlap": false}}, "y": {"datum": 0.95, "type": "quantitative", "scale": {"domain": [0, 1], "nice": false, "zero": false}, "axis": {"values": [0, 0.25, 0.5, 0.75, 1], "format": ".2f", "title": "相对光谱值", "titleFontSize": 6.5, "titlePadding": 3, "labelOverlap": false}}}}
            ]},
            {"width": 205, "height": 134, "layer": [
              {"data": {"values": [{}]}, "mark": {"type": "rect", "filled": false, "stroke": "#1a1a1a", "strokeWidth": 1.5, "clip": false}, "encoding": {"x": {"datum": 279.76, "type": "quantitative", "scale": {"domain": [350, 800], "nice": false, "zero": false}, "axis": {"values": [350, 462.5, 575, 687.5, 800], "format": ".0f", "title": "波长（nm）", "titleFontSize": 7, "titlePadding": 1, "labelOverlap": false}}, "x2": {"datum": 826.34}, "y": {"datum": -0.179, "type": "quantitative", "scale": {"domain": [0, 1], "nice": false, "zero": false}, "axis": {"values": [0, 0.25, 0.5, 0.75, 1], "format": ".2f", "title": "相对光谱值", "titleFontSize": 6.5, "titlePadding": 3, "labelOverlap": false}}, "y2": {"datum": 1.0896}}},
              {"data": {"name": "spectra"}, "transform": [{"filter": "datum.s === 'WEN-10'"}], "mark": {"type": "area", "interpolate": "monotone", "color": {"gradient": "linear", "x1": 0, "y1": 0, "x2": 1, "y2": 0, "stops": [{"offset": 0, "color": "#000050"}, {"offset": 0.1111, "color": "#10007a"}, {"offset": 0.1333, "color": "#0000c8"}, {"offset": 0.1556, "color": "#0000f0"}, {"offset": 0.2, "color": "#0010ff"}, {"offset": 0.2333, "color": "#0030ff"}, {"offset": 0.2556, "color": "#0070ff"}, {"offset": 0.2778, "color": "#00b8ff"}, {"offset": 0.2956, "color": "#00ffff"}, {"offset": 0.3156, "color": "#00ff90"}, {"offset": 0.3444, "color": "#00ff30"}, {"offset": 0.3778, "color": "#30ff00"}, {"offset": 0.4222, "color": "#80ff00"}, {"offset": 0.4667, "color": "#d0ff00"}, {"offset": 0.5, "color": "#ffff00"}, {"offset": 0.5222, "color": "#ffc000"}, {"offset": 0.5444, "color": "#ff7000"}, {"offset": 0.5711, "color": "#ff2000"}, {"offset": 0.6, "color": "#ff0000"}, {"offset": 0.6667, "color": "#dd0000"}, {"offset": 0.7333, "color": "#a00000"}, {"offset": 0.7778, "color": "#780000"}, {"offset": 0.8444, "color": "#420000"}, {"offset": 0.9111, "color": "#180000"}, {"offset": 0.9778, "color": "#000000"}, {"offset": 1, "color": "#000000"}]}},
               "encoding": {"x": {"field": "wl", "type": "quantitative", "scale": {"domain": [350, 800], "nice": false, "zero": false}, "axis": {"values": [350, 462.5, 575, 687.5, 800], "format": ".0f", "title": "波长（nm）", "titleFontSize": 7, "titlePadding": 1, "labelOverlap": false}},
                            "y": {"field": "v", "type": "quantitative", "scale": {"domain": [0, 1], "nice": false, "zero": false}, "axis": {"values": [0, 0.25, 0.5, 0.75, 1], "format": ".2f", "title": "相对光谱值", "titleFontSize": 6.5, "titlePadding": 3, "labelOverlap": false}}}},
              {"data": {"values": [{}]}, "mark": {"type": "text", "text": "W E N - 1 0", "font": "Liberation Serif", "fontWeight": "bold", "fontSize": 14.5, "color": "#1f8b3c", "align": "left", "baseline": "middle"}, "encoding": {"x": {"datum": 669, "type": "quantitative", "scale": {"domain": [350, 800], "nice": false, "zero": false}, "axis": {"values": [350, 462.5, 575, 687.5, 800], "format": ".0f", "title": "波长（nm）", "titleFontSize": 7, "titlePadding": 1, "labelOverlap": false}}, "y": {"datum": 0.95, "type": "quantitative", "scale": {"domain": [0, 1], "nice": false, "zero": false}, "axis": {"values": [0, 0.25, 0.5, 0.75, 1], "format": ".2f", "title": "相对光谱值", "titleFontSize": 6.5, "titlePadding": 3, "labelOverlap": false}}}}
            ]}
          ]
        },
        {
          "spacing": 8.5,
          "hconcat": [
            {"width": 216, "height": 147, "layer": [
              {"data": {"values": [{}]}, "mark": {"type": "rect", "color": "#f4f4f4", "clip": false}, "encoding": {"x": {"datum": -0.15278, "type": "quantitative", "scale": {"domain": [0, 1], "nice": false, "zero": false}, "axis": null}, "x2": {"datum": 1}, "y": {"datum": -0.15, "type": "quantitative", "scale": {"domain": [-0.15, 7.2], "reverse": true, "nice": false, "zero": false}, "axis": null}, "y2": {"datum": 7.2}}},
              {"data": {"name": "notes"}, "transform": [{"filter": "datum.box === 'WEN-4' && datum.kind === 'desc'"}], "mark": {"type": "text", "align": "left", "baseline": "middle", "font": "Noto Sans CJK SC", "fontSize": 16.5, "color": "#1a1a1a"},
               "encoding": {"x": {"datum": -0.037, "type": "quantitative", "scale": {"domain": [0, 1], "nice": false, "zero": false}, "axis": null}, "y": {"field": "line", "type": "quantitative", "scale": {"domain": [-0.15, 7.2], "reverse": true, "nice": false, "zero": false}, "axis": null}, "text": {"field": "text"}}},
              {"data": {"name": "notes"}, "transform": [{"filter": "datum.box === 'WEN-4' && datum.kind === 'tone'"}], "mark": {"type": "text", "align": "left", "baseline": "middle", "font": "Noto Sans CJK SC", "fontSize": 16.5, "fontWeight": "bold", "color": "#2e8b5f", "dx": 11},
               "encoding": {"x": {"datum": -0.037, "type": "quantitative", "scale": {"domain": [0, 1], "nice": false, "zero": false}, "axis": null}, "y": {"field": "line", "type": "quantitative", "scale": {"domain": [-0.15, 7.2], "reverse": true, "nice": false, "zero": false}, "axis": null}, "text": {"field": "text"}}},
              {"data": {"name": "notes"}, "transform": [{"filter": "datum.box === 'WEN-4' && datum.kind === 'temp'"}], "mark": {"type": "text", "align": "left", "baseline": "middle", "font": "Noto Sans CJK SC", "fontSize": 16.5, "fontWeight": "bold", "color": "#2e8b5f", "dx": 1},
               "encoding": {"x": {"datum": -0.037, "type": "quantitative", "scale": {"domain": [0, 1], "nice": false, "zero": false}, "axis": null}, "y": {"field": "line", "type": "quantitative", "scale": {"domain": [-0.15, 7.2], "reverse": true, "nice": false, "zero": false}, "axis": null}, "text": {"field": "text"}}}
            ]},
            {"width": 216, "height": 147, "layer": [
              {"data": {"values": [{}]}, "mark": {"type": "rect", "color": "#f4f4f4", "clip": false}, "encoding": {"x": {"datum": -0.15278, "type": "quantitative", "scale": {"domain": [0, 1], "nice": false, "zero": false}, "axis": null}, "x2": {"datum": 1}, "y": {"datum": -0.95, "type": "quantitative", "scale": {"domain": [-0.95, 6.4], "reverse": true, "nice": false, "zero": false}, "axis": null}, "y2": {"datum": 6.4}}},
              {"data": {"name": "notes"}, "transform": [{"filter": "datum.box === 'WEN-8' && datum.kind === 'desc'"}], "mark": {"type": "text", "align": "left", "baseline": "middle", "font": "Noto Sans CJK SC", "fontSize": 16.5, "color": "#1a1a1a"},
               "encoding": {"x": {"datum": -0.037, "type": "quantitative", "scale": {"domain": [0, 1], "nice": false, "zero": false}, "axis": null}, "y": {"field": "line", "type": "quantitative", "scale": {"domain": [-0.95, 6.4], "reverse": true, "nice": false, "zero": false}, "axis": null}, "text": {"field": "text"}}},
              {"data": {"name": "notes"}, "transform": [{"filter": "datum.box === 'WEN-8' && datum.kind === 'tone'"}], "mark": {"type": "text", "align": "left", "baseline": "middle", "font": "Noto Sans CJK SC", "fontSize": 16.5, "fontWeight": "bold", "color": "#2e8b5f", "dx": 10},
               "encoding": {"x": {"datum": -0.037, "type": "quantitative", "scale": {"domain": [0, 1], "nice": false, "zero": false}, "axis": null}, "y": {"field": "line", "type": "quantitative", "scale": {"domain": [-0.95, 6.4], "reverse": true, "nice": false, "zero": false}, "axis": null}, "text": {"field": "text"}}},
              {"data": {"name": "notes"}, "transform": [{"filter": "datum.box === 'WEN-8' && datum.kind === 'temp'"}], "mark": {"type": "text", "align": "left", "baseline": "middle", "font": "Noto Sans CJK SC", "fontSize": 16.5, "fontWeight": "bold", "color": "#2e8b5f", "dx": 1},
               "encoding": {"x": {"datum": -0.037, "type": "quantitative", "scale": {"domain": [0, 1], "nice": false, "zero": false}, "axis": null}, "y": {"field": "line", "type": "quantitative", "scale": {"domain": [-0.95, 6.4], "reverse": true, "nice": false, "zero": false}, "axis": null}, "text": {"field": "text"}}}
            ]},
            {"width": 216, "height": 147, "layer": [
              {"data": {"values": [{}]}, "mark": {"type": "rect", "color": "#f4f4f4", "clip": false}, "encoding": {"x": {"datum": -0.15278, "type": "quantitative", "scale": {"domain": [0, 1], "nice": false, "zero": false}, "axis": null}, "x2": {"datum": 1}, "y": {"datum": -0.922, "type": "quantitative", "scale": {"domain": [-0.922, 6.714], "reverse": true, "nice": false, "zero": false}, "axis": null}, "y2": {"datum": 6.714}}},
              {"data": {"name": "notes"}, "transform": [{"filter": "datum.box === 'WEN-10' && datum.kind === 'desc'"}], "mark": {"type": "text", "align": "left", "baseline": "middle", "font": "Noto Sans CJK SC", "fontSize": 16.5, "color": "#1a1a1a"},
               "encoding": {"x": {"datum": -0.033, "type": "quantitative", "scale": {"domain": [0, 1], "nice": false, "zero": false}, "axis": null}, "y": {"field": "line", "type": "quantitative", "scale": {"domain": [-0.922, 6.714], "reverse": true, "nice": false, "zero": false}, "axis": null}, "text": {"field": "text"}}},
              {"data": {"name": "notes"}, "transform": [{"filter": "datum.box === 'WEN-10' && datum.kind === 'tone'"}], "mark": {"type": "text", "align": "left", "baseline": "middle", "font": "Noto Sans CJK SC", "fontSize": 16.5, "fontWeight": "bold", "color": "#2e8b5f", "dx": 12},
               "encoding": {"x": {"datum": -0.033, "type": "quantitative", "scale": {"domain": [0, 1], "nice": false, "zero": false}, "axis": null}, "y": {"field": "line", "type": "quantitative", "scale": {"domain": [-0.922, 6.714], "reverse": true, "nice": false, "zero": false}, "axis": null}, "text": {"field": "text"}}},
              {"data": {"name": "notes"}, "transform": [{"filter": "datum.box === 'WEN-10' && datum.kind === 'temp'"}], "mark": {"type": "text", "align": "left", "baseline": "middle", "font": "Noto Sans CJK SC", "fontSize": 16.5, "fontWeight": "bold", "color": "#2e8b5f", "dx": 1},
               "encoding": {"x": {"datum": -0.033, "type": "quantitative", "scale": {"domain": [0, 1], "nice": false, "zero": false}, "axis": null}, "y": {"field": "line", "type": "quantitative", "scale": {"domain": [-0.922, 6.714], "reverse": true, "nice": false, "zero": false}, "axis": null}, "text": {"field": "text"}}}
            ]}
          ]
        }
      ]
    }
  ]
}
